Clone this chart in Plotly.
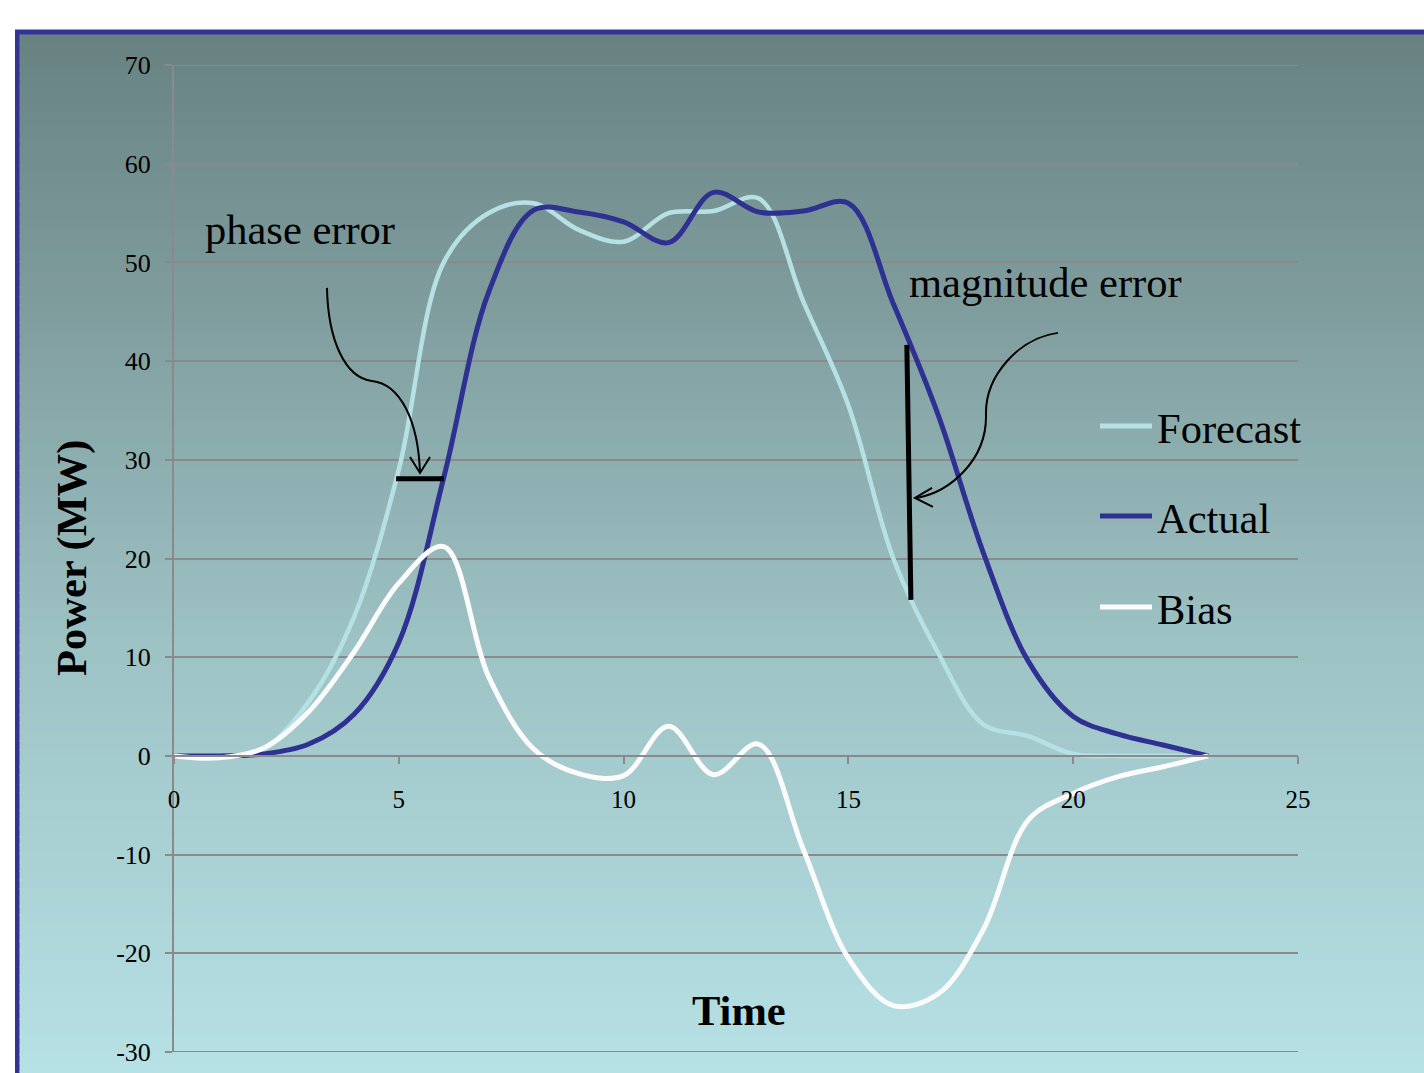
import plotly.graph_objects as go

# Hourly power profile (MW)
hours = list(range(24))
forecast = [0, -0.1, 0.8, 5.5, 14, 29, 50, 55, 56, 53.3, 52.1, 55, 55.2, 56.5,
            46, 35.5, 20, 10.4, 3.2, 2.0, 0.2, 0, 0, 0]
actual = [0, 0, 0.2, 1.2, 4.2, 11.5, 28.2, 47, 55.3, 55.1, 54.1, 52, 57.1, 55.1,
          55.2, 56.0, 45.8, 34.5, 20.6, 9.6, 4.0, 2.2, 1.1, 0]
bias = [0, -0.2, 0.8, 4.5, 10.5, 17.5, 21.2, 8, 0.7, -1.8, -2.0, 3.0, -1.9, 1.2,
        -9.5, -20.5, -25.3, -24.1, -17.6, -6.5, -3.8, -2.1, -1.1, 0]

series_names = ["Forecast", "Actual", "Bias"]
series_colors = ["#b6e1e4", "#2e3192", "#fbfbfb"]
series_widths = [4.5, 5, 5]

y_ticks = [-30, -20, -10, 0, 10, 20, 30, 40, 50, 60, 70]
x_ticks = [0, 5, 10, 15, 20, 25]

W, H = 1424, 1073
L, R, T, B = 174, 126, 65, 21
PW, PH = W - L - R, H - T - B
SERIF = "Liberation Serif"
BIG = 42.5


def px(x):
    """pixel column -> paper x"""
    return (x - L) / PW


def py(y):
    """pixel row -> paper y"""
    return (H - B - y) / PH


fig = go.Figure()
for name, vals, col, w in zip(series_names, [forecast, actual, bias],
                              series_colors, series_widths):
    fig.add_trace(go.Scatter(
        x=hours, y=vals, name=name, mode="lines",
        line=dict(color=col, width=w, shape="spline", smoothing=1),
        showlegend=False, hoverinfo="skip"))

shapes = []

# slide frame: dark blue border and a vertical teal gradient
shapes.append(dict(type="rect", xref="paper", yref="paper", layer="below",
                   x0=px(15), x1=px(1440), y0=py(29.5), y1=py(1090),
                   fillcolor="#333394", line=dict(width=0)))
stops = [(34, (104, 130, 130)), (300, (127, 156, 157)),
         (640, (157, 194, 196)), (1073, (182, 225, 229))]


def grad(yp):
    for (ya, ca), (yb, cb) in zip(stops[:-1], stops[1:]):
        if yp <= yb:
            f = (yp - ya) / (yb - ya)
            return tuple(round(a + (b - a) * f) for a, b in zip(ca, cb))
    return stops[-1][1]


n_strips = 120
top, bot = 34.5, 1080
step = (bot - top) / n_strips
for i in range(n_strips):
    y0 = top + i * step
    c = grad(y0 + step / 2)
    shapes.append(dict(type="rect", xref="paper", yref="paper", layer="below",
                       x0=px(19.5), x1=px(1440), y0=py(y0), y1=py(y0 + step + 0.8),
                       fillcolor="rgb(%d,%d,%d)" % c, line=dict(width=0)))

AX = "#8a8a8a"
# gridlines at the two range ends
for yv in (y_ticks[0], y_ticks[-1]):
    shapes.append(dict(type="line", xref="paper", yref="y", layer="below",
                       x0=0, x1=1, y0=yv, y1=yv, line=dict(color=AX, width=2)))

# error markers
shapes.append(dict(type="line", xref="x", yref="y", x0=4.94, x1=6.0, y0=28.07, y1=28.07,
                   line=dict(color="black", width=5)))
shapes.append(dict(type="line", xref="x", yref="y", x0=16.30, x1=16.39, y0=41.64, y1=15.81,
                   line=dict(color="black", width=5)))

# curved callout arrows
shapes.append(dict(type="path", xref="x", yref="y",
                   path="M3.403,47.42 C3.425,42.15 3.803,38.30 4.404,37.99 "
                        "C5.027,37.69 5.427,34.04 5.471,28.77",
                   line=dict(color="black", width=2)))
shapes.append(dict(type="path", xref="x", yref="y",
                   path="M5.249,30.29 L5.471,28.67 L5.694,30.29",
                   line=dict(color="black", width=2)))
shapes.append(dict(type="path", xref="x", yref="y",
                   path="M19.662,42.86 C18.817,42.35 18.038,38.60 18.06,34.55 "
                        "C18.083,29.99 17.26,26.75 16.526,26.14",
                   line=dict(color="black", width=2)))
shapes.append(dict(type="path", xref="x", yref="y",
                   path="M16.86,27.15 L16.48,26.14 L16.88,25.23",
                   line=dict(color="black", width=2)))

# legend samples
legend_rows = [426, 516, 607]
for col, yr in zip(series_colors, legend_rows):
    shapes.append(dict(type="line", xref="paper", yref="paper",
                       x0=px(1100), x1=px(1152), y0=py(yr), y1=py(yr),
                       line=dict(color=col, width=5)))

annotations = []
for name, yr in zip(series_names, legend_rows):
    annotations.append(dict(text=name, xref="paper", yref="paper", x=px(1155), y=py(yr + 2),
                            xanchor="left", yanchor="middle", showarrow=False,
                            font=dict(family=SERIF, size=BIG, color="black")))

annotations.append(dict(text="phase error", xref="paper", yref="paper", x=px(203), y=py(229),
                        xanchor="left", yanchor="middle", showarrow=False,
                        font=dict(family=SERIF, size=BIG, color="black")))
annotations.append(dict(text="magnitude error", xref="paper", yref="paper", x=px(907), y=py(282),
                        xanchor="left", yanchor="middle", showarrow=False,
                        font=dict(family=SERIF, size=BIG, color="black")))
annotations.append(dict(text="<b>Time</b>", xref="paper", yref="paper", x=px(739), y=py(1010),
                        xanchor="center", yanchor="middle", showarrow=False,
                        font=dict(family=SERIF, size=BIG, color="black")))
annotations.append(dict(text="<b>Power (MW)</b>", xref="paper", yref="paper", x=px(72), y=py(558),
                        xanchor="center", yanchor="middle", showarrow=False, textangle=-90,
                        font=dict(family=SERIF, size=BIG, color="black")))

fig.update_layout(
    width=W, height=H,
    margin=dict(l=L, r=R, t=T, b=B, pad=0, autoexpand=False),
    paper_bgcolor="white", plot_bgcolor="rgba(0,0,0,0)",
    shapes=shapes, annotations=annotations, showlegend=False,
    xaxis=dict(range=[0, 25], tickvals=x_ticks, ticktext=[str(v) for v in x_ticks],
               anchor="free", position=0.3, showline=True, linecolor=AX, linewidth=2,
               ticks="outside", ticklen=7, tickwidth=2, tickcolor=AX,
               showgrid=False, zeroline=False, automargin=False, ticklabelstandoff=14,
               tickfont=dict(family=SERIF, size=25, color="black")),
    yaxis=dict(range=[-30, 70], tickvals=y_ticks, ticktext=[str(v) for v in y_ticks],
               showline=True, linecolor=AX, linewidth=2,
               ticks="outside", ticklen=7, tickwidth=2, tickcolor=AX,
               showgrid=True, gridcolor=AX, gridwidth=2, zeroline=False,
               automargin=False, ticklabelstandoff=9,
               tickfont=dict(family=SERIF, size=26, color="black")),
)

fig.write_html("out.html")
